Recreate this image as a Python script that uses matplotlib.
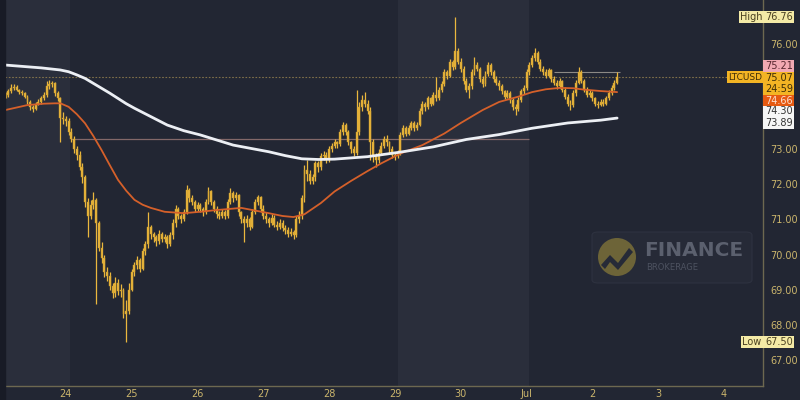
import numpy as np
import matplotlib
matplotlib.use("Agg")
import matplotlib.pyplot as plt
from matplotlib.patches import Rectangle, FancyBboxPatch, Ellipse, Polygon
from matplotlib.transforms import blended_transform_factory

# ---------------- data (hourly LTCUSD, hours counted from 23 Jun 00:00) ----------------
first_hour = 2
first_open = 74.50

close_d23 = [74.55, 74.65, 74.75, 74.78, 74.70, 74.62, 74.60, 74.50, 74.35, 74.20, 74.15,
             74.30, 74.35, 74.45, 74.55, 74.80, 74.85, 74.90, 74.60, 74.45, 73.90, 73.85]
high_d23 = [74.62, 74.72, 74.85, 74.86, 74.82, 74.72, 74.68, 74.64, 74.55, 74.40, 74.26,
            74.36, 74.42, 74.52, 74.62, 74.95, 74.97, 74.96, 74.93, 74.66, 74.50, 74.05]
low_d23 = [74.45, 74.50, 74.60, 74.70, 74.66, 74.58, 74.55, 74.45, 74.30, 74.12, 74.05,
           74.12, 74.25, 74.30, 74.40, 74.50, 74.72, 74.78, 74.52, 74.38, 73.20, 73.72]

close_d24 = [73.80, 73.50, 73.30, 73.00, 72.85, 72.50, 72.20, 71.50, 71.10, 71.40, 71.55, 70.90,
             70.20, 69.90, 69.50, 69.40, 69.10, 68.90, 69.20, 68.95, 69.00, 68.30, 68.40, 69.00]
high_d24 = [73.95, 73.88, 73.60, 73.38, 73.10, 72.95, 72.60, 72.28, 71.60, 71.55, 71.78, 71.62,
            70.95, 70.35, 70.00, 69.65, 69.50, 69.20, 69.35, 69.30, 69.15, 69.05, 68.70, 69.20]
low_d24 = [73.65, 73.40, 73.20, 72.90, 72.70, 72.40, 72.05, 71.35, 70.50, 71.00, 71.30, 68.60,
           70.10, 69.75, 69.35, 69.25, 69.00, 68.75, 68.80, 68.85, 68.80, 68.20, 67.50, 68.30]

close_d25 = [69.50, 69.70, 69.85, 69.60, 70.10, 70.30, 70.80, 70.60, 70.50, 70.40, 70.60, 70.45,
             70.50, 70.30, 70.55, 70.90, 71.30, 71.10, 71.00, 71.20, 71.85, 71.60, 71.50, 71.30]
high_d25 = [69.60, 69.80, 69.95, 69.90, 70.20, 70.40, 71.20, 70.85, 70.65, 70.55, 70.70, 70.65,
            70.60, 70.55, 70.65, 71.00, 71.40, 71.35, 71.15, 71.30, 71.98, 71.90, 71.70, 71.55]
low_d25 = [68.95, 69.40, 69.60, 69.50, 69.55, 70.00, 70.20, 70.45, 70.35, 70.25, 70.30, 70.35,
           70.35, 70.20, 70.25, 70.45, 70.80, 71.00, 70.90, 70.95, 71.15, 71.50, 71.40, 71.20]

close_d26 = [71.40, 71.30, 71.20, 71.50, 71.80, 71.50, 71.30, 71.15, 71.10, 71.20, 71.10, 71.50,
             71.75, 71.60, 71.70, 71.20, 71.00, 70.90, 71.00, 70.80, 71.20, 71.50, 71.65, 71.30]
high_d26 = [71.50, 71.48, 71.35, 71.58, 71.93, 71.85, 71.55, 71.38, 71.25, 71.30, 71.28, 71.58,
            71.90, 71.80, 71.78, 71.72, 71.25, 71.10, 71.12, 71.08, 71.30, 71.58, 71.70, 71.68]
low_d26 = [71.25, 71.22, 71.10, 71.15, 71.45, 71.40, 71.22, 71.05, 71.00, 71.05, 71.00, 71.05,
           71.45, 71.50, 71.55, 71.10, 70.90, 70.36, 70.80, 70.70, 70.75, 71.15, 71.40, 71.20]

close_d27 = [71.10, 71.00, 70.90, 71.05, 70.85, 70.80, 70.90, 70.75, 70.70, 70.60, 70.65, 70.55,
             71.00, 71.10, 71.60, 72.40, 72.30, 72.10, 72.20, 72.60, 72.50, 72.80, 72.85, 72.70]
high_d27 = [71.40, 71.20, 71.08, 71.15, 71.12, 70.95, 71.00, 70.98, 70.85, 70.78, 70.75, 70.70,
            71.10, 71.25, 71.70, 72.55, 72.70, 72.40, 72.30, 72.68, 72.66, 72.90, 72.95, 72.92]
low_d27 = [71.00, 70.90, 70.80, 70.85, 70.78, 70.70, 70.72, 70.68, 70.60, 70.50, 70.52, 70.45,
           70.50, 70.90, 71.00, 71.50, 72.10, 72.00, 72.00, 72.10, 72.35, 72.40, 72.70, 72.60]

close_d28 = [73.00, 73.10, 73.20, 73.15, 73.50, 73.70, 73.50, 73.20, 73.00, 72.90, 73.50, 74.20,
             74.40, 74.30, 74.10, 73.20, 72.80, 72.70, 72.90, 73.10, 73.30, 73.20, 73.00, 72.85]
high_d28 = [73.10, 73.18, 73.28, 73.25, 73.58, 73.78, 73.75, 73.55, 73.25, 73.10, 74.69, 74.35,
            74.55, 74.63, 74.40, 74.20, 73.30, 72.90, 73.00, 73.20, 73.38, 73.40, 73.25, 73.10]
low_d28 = [72.65, 72.92, 73.05, 73.05, 73.10, 73.40, 73.42, 73.12, 72.90, 72.80, 72.85, 73.40,
           74.10, 74.20, 74.00, 72.70, 72.65, 72.50, 72.62, 72.85, 73.05, 73.10, 72.90, 72.75]

close_d29 = [72.80, 72.90, 73.40, 73.60, 73.45, 73.60, 73.75, 73.60, 73.70, 74.10, 74.30, 74.20,
             74.45, 74.30, 74.55, 74.45, 74.70, 74.85, 75.20, 75.10, 75.50, 75.35, 75.80, 75.50]
high_d29 = [72.92, 72.98, 73.50, 73.68, 73.65, 73.68, 73.82, 73.80, 73.78, 74.18, 74.38, 74.35,
            74.52, 74.50, 74.62, 75.06, 74.78, 74.95, 75.28, 75.26, 75.58, 75.55, 76.76, 75.88]
low_d29 = [72.70, 72.75, 72.85, 73.35, 73.38, 73.40, 73.55, 73.52, 73.55, 73.65, 74.02, 74.10,
           74.15, 74.22, 74.25, 74.38, 74.40, 74.62, 74.80, 75.00, 75.05, 75.25, 75.30, 75.42]

close_d30 = [75.30, 74.95, 74.70, 74.80, 75.20, 75.40, 75.30, 75.00, 74.85, 75.15, 75.40, 75.20,
             75.00, 74.90, 74.80, 74.65, 74.50, 74.60, 74.40, 74.20, 74.15, 74.40, 74.65, 74.75]
high_d30 = [75.60, 75.38, 75.02, 74.90, 75.28, 75.63, 75.48, 75.35, 75.08, 75.22, 75.50, 75.45,
            75.25, 75.08, 74.98, 74.85, 74.70, 74.68, 74.65, 74.45, 74.28, 74.48, 74.72, 74.82]
low_d30 = [75.20, 74.85, 74.62, 74.46, 74.72, 75.12, 75.22, 74.92, 74.78, 74.80, 75.10, 75.12,
           74.92, 74.82, 74.70, 74.58, 74.42, 74.45, 74.32, 74.12, 73.98, 74.10, 74.35, 74.58]

close_j01 = [75.20, 75.40, 75.60, 75.75, 75.50, 75.30, 75.20, 75.10, 75.25, 75.00, 74.90, 74.80,
             74.95, 74.70, 74.50, 74.30, 74.25, 74.60, 74.90, 75.20, 74.95, 74.70, 74.55, 74.60]
high_j01 = [75.28, 75.48, 75.68, 75.89, 75.80, 75.58, 75.38, 75.28, 75.32, 75.30, 75.08, 74.98,
            75.02, 74.98, 74.78, 74.58, 74.40, 74.68, 74.98, 75.35, 75.25, 75.00, 74.78, 74.68]
low_j01 = [74.70, 75.12, 75.35, 75.52, 75.42, 75.22, 75.12, 75.02, 75.05, 74.92, 74.82, 74.72,
           74.75, 74.62, 74.42, 74.22, 74.12, 74.20, 74.52, 74.85, 74.88, 74.62, 74.48, 74.48]

close_j02 = [74.45, 74.30, 74.25, 74.35, 74.30, 74.45, 74.60, 74.75, 74.90, 75.07]
high_j02 = [74.65, 74.50, 74.38, 74.42, 74.42, 74.52, 74.68, 74.82, 74.98, 75.21]
low_j02 = [74.38, 74.22, 74.18, 74.22, 74.22, 74.25, 74.40, 74.55, 74.68, 74.85]

# moving averages (hour, value)
ma_fast_hours = [2, 10, 16, 20, 22, 25, 28, 31, 34, 37, 40, 43, 46, 49, 52, 55, 60, 67, 73,
                 79, 88, 98, 103, 107, 111, 117, 122, 128, 134, 139, 146, 154, 162, 168, 176,
                 182, 189, 194, 199, 204, 209, 213, 219, 225]
ma_fast_vals = [74.12, 74.26, 74.30, 74.31, 74.31, 74.21, 74.00, 73.74, 73.38, 72.98, 72.55,
                72.13, 71.82, 71.56, 71.42, 71.33, 71.22, 71.18, 71.22, 71.27, 71.33, 71.18,
                71.10, 71.07, 71.15, 71.47, 71.80, 72.10, 72.38, 72.60, 72.88, 73.12, 73.45,
                73.75, 74.12, 74.35, 74.50, 74.63, 74.71, 74.75, 74.74, 74.70, 74.66, 74.63]
ma_slow_hours = [2, 15, 22, 25, 28, 31, 34, 37, 40, 43, 46, 49, 55, 61, 67, 73, 85, 98, 104,
                 110, 116, 122, 134, 146, 158, 170, 182, 194, 207, 219, 225]
ma_slow_vals = [75.40, 75.32, 75.26, 75.21, 75.12, 75.02, 74.88, 74.74, 74.60, 74.45, 74.30,
                74.17, 73.93, 73.69, 73.53, 73.41, 73.12, 72.93, 72.82, 72.73, 72.71, 72.72,
                72.79, 72.92, 73.07, 73.28, 73.42, 73.60, 73.75, 73.83, 73.89]

day_tick_hours = [24, 48, 72, 96, 120, 144, 168, 192, 216, 240, 264]
day_tick_labels = ["24", "25", "26", "27", "28", "29", "30", "Jul", "2", "3", "4"]
price_ticks = [67, 68, 69, 70, 71, 72, 73, 76]

last_price = 75.07
level_a = 73.29
level_b = 75.21
session_bands = [(1.0, 25.5), (145.0, 193.0)]

# ---------------- assemble ----------------
closes = np.array(close_d23 + close_d24 + close_d25 + close_d26 + close_d27 + close_d28 +
                  close_d29 + close_d30 + close_j01 + close_j02)
highs = np.array(high_d23 + high_d24 + high_d25 + high_d26 + high_d27 + high_d28 +
                 high_d29 + high_d30 + high_j01 + high_j02)
lows = np.array(low_d23 + low_d24 + low_d25 + low_d26 + low_d27 + low_d28 +
                low_d29 + low_d30 + low_j01 + low_j02)
opens = np.concatenate([[first_open], closes[:-1]])
hours = np.arange(first_hour, first_hour + len(closes))

BG = "#222633"
BAND = "#2a2e3b"
GOLD = "#eab73e"
AXC = "#6d6850"
TXT = "#cbb56c"

fig = plt.figure(figsize=(8, 4), dpi=100, facecolor=BG)
ax = fig.add_axes([5 / 800, 14 / 400, 758 / 800, 386 / 400])
ax.set_facecolor(BG)
ymin, ymax = 66.256, 77.254
ax.set_xlim(1.8, 278.2)
ax.set_ylim(ymin, ymax)

# dark strip at far left
fig.patches.append(Rectangle((0, 0), 5 / 800, 1, transform=fig.transFigure,
                             color="#181b26", zorder=0))

for a, b in session_bands:
    ax.axvspan(a, b, color=BAND, zorder=0, lw=0)

# level lines
ax.axhline(last_price, color="#9a8450", lw=0.8, ls=(0, (1.5, 1.5)), alpha=0.8, zorder=1)
ax.hlines(level_a, 26, 193, color="#8e7070", lw=0.9, alpha=0.9, zorder=1)
ax.hlines(level_b, 202, 226, color="#a8a39a", lw=0.8, alpha=0.8, zorder=1)

# candles
body_low = np.minimum(opens, closes)
body_h = np.maximum(np.abs(closes - opens), 0.02)
ax.vlines(hours, lows, highs, color=GOLD, lw=0.9, zorder=3)
ax.bar(hours, body_h, bottom=body_low, width=0.7, color=GOLD,
       edgecolor="#c99a2a", linewidth=0.3, zorder=4)

# moving averages
ax.plot(ma_fast_hours, ma_fast_vals, color="#d5602a", lw=1.3, zorder=5,
        solid_capstyle="round", solid_joinstyle="round")
ax.plot(ma_slow_hours, ma_slow_vals, color="#eceff4", lw=2.0, zorder=5,
        solid_capstyle="round", solid_joinstyle="round")

# axes styling
for s in ["top", "left"]:
    ax.spines[s].set_visible(False)
ax.spines["bottom"].set_color(AXC)
ax.spines["right"].set_color(AXC)
ax.spines["bottom"].set_linewidth(1.0)
ax.spines["right"].set_linewidth(1.0)
ax.set_xticks(day_tick_hours)
ax.set_xticklabels(day_tick_labels)
ax.yaxis.tick_right()
ax.set_yticks(price_ticks)
ax.set_yticklabels([f"{v:.2f}" for v in price_ticks])
ax.tick_params(axis="x", length=0, pad=2, labelsize=7, colors=TXT)
ax.tick_params(axis="y", length=0, pad=5, labelsize=7, colors=TXT)


def px2price(y):
    return 76 - (y - 44) / 35.1


tr = blended_transform_factory(ax.transAxes, ax.transData)
xw = 1 / 758.0  # one pixel in axes units


def box(x0px, x1px, ytop, ybot, color, z=10):
    y0, y1 = px2price(ybot), px2price(ytop)
    ax.add_patch(Rectangle((x0px * xw, y0), (x1px - x0px) * xw, y1 - y0, transform=tr,
                           facecolor=color, edgecolor="none", clip_on=False, zorder=z))


def label(xpx, ypx, s, color, ha="center", size=7):
    ax.text(xpx * xw, px2price(ypx), s, transform=tr, ha=ha, va="center",
            fontsize=size, color=color, clip_on=False, zorder=12)


R0 = 758  # right spine, pixels from axes left
box(R0 - 24, R0, 11, 23, "#f4eaa6")
label(R0 - 12, 17, "High", "#4a4020")
box(R0, R0 + 31, 11, 23, "#f4eaa6")
label(R0 + 16, 17, "76.76", "#4a4020")
box(R0, R0 + 31, 60, 72, "#f2a9b2")
label(R0 + 16, 66, "75.21", "#5a2830")
box(R0, R0 + 31, 72, 95, "#f3b424")
label(R0 + 16, 77.5, "75.07", "#3e2e08")
label(R0 + 16, 88.5, "24:59", "#3e2e08")
box(R0 - 36, R0, 71, 83, "#f3b424")
label(R0 - 18, 77, "LTCUSD", "#3e2e08", size=6.5)
box(R0, R0 + 31, 95, 106, "#e65a12")
label(R0 + 16, 100.5, "74.66", "#fde0d0")
box(R0, R0 + 31, 106, 129, "#f6f6f6")
label(R0 + 16, 111, "74.30", "#333333")
label(R0 + 16, 123, "73.89", "#333333")
box(R0 - 22, R0, 336, 348, "#f4eaa6")
label(R0 - 11, 342, "Low", "#4a4020")
box(R0, R0 + 31, 336, 348, "#f4eaa6")
label(R0 + 16, 342, "67.50", "#4a4020")


# watermark (figure pixel coordinates)
def fx(x):
    return x / 800


def fy(y):
    return 1 - y / 400


fig.patches.append(FancyBboxPatch((fx(592), fy(283)), fx(752) - fx(592), fy(232) - fy(283),
                                  boxstyle="round,pad=0.0,rounding_size=0.008",
                                  transform=fig.transFigure, facecolor="#262a37",
                                  edgecolor="#2e3240", lw=0.8, zorder=6))
fig.patches.append(Ellipse((fx(617), fy(257)), 38 / 800, 38 / 400, transform=fig.transFigure,
                           facecolor="#6d6438", edgecolor="none", zorder=7))
fig.patches.append(Polygon([(fx(601), fy(265)), (fx(610), fy(255)), (fx(618), fy(263)),
                            (fx(629), fy(248)), (fx(633), fy(252)), (fx(618), fy(270)),
                            (fx(610), fy(262)), (fx(605), fy(269))],
                           closed=True, transform=fig.transFigure,
                           facecolor="#262a37", edgecolor="none", zorder=8))
fig.text(fx(644), fy(250), "FINANCE", fontsize=14.5, fontweight="bold", color="#5b606e",
         ha="left", va="center", zorder=9)
fig.text(fx(646), fy(267), "BROKERAGE", fontsize=6, color="#4d5260",
         ha="left", va="center", zorder=9)

fig.savefig("out.png", dpi=100, facecolor=BG)
